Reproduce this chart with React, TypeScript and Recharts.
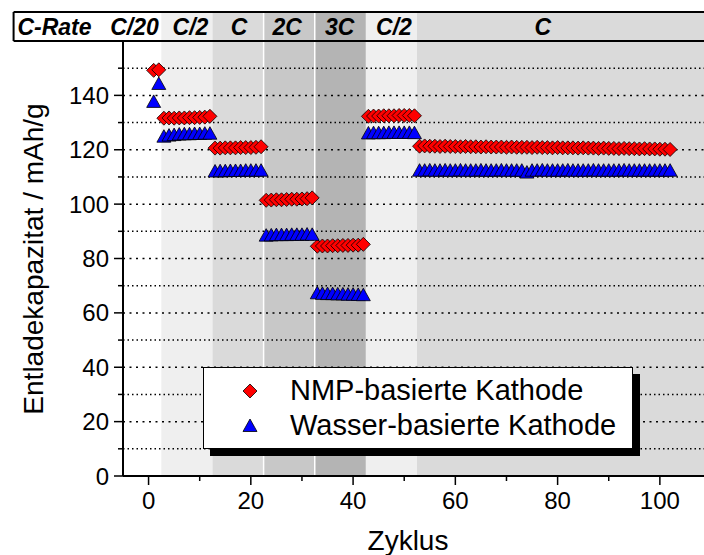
import React from 'react';
import {
  ScatterChart, Scatter, XAxis, YAxis, ReferenceArea, ReferenceLine, ReferenceDot, Legend,
} from 'recharts';

// cycles grouped by C-rate step
const groupStarts = [1, 3, 13, 23, 33, 43, 53];

const nmpGroups = [
  [149.2, 149.4],
  [131.6, 131.7, 131.6, 131.7, 131.7, 131.8, 131.8, 131.9, 132.0, 132.3],
  [120.6, 120.6, 120.7, 120.7, 120.7, 120.8, 120.8, 120.8, 120.9, 121.1],
  [101.4, 101.5, 101.6, 101.6, 101.7, 101.8, 101.8, 101.9, 102.0, 102.3],
  [84.5, 84.6, 84.6, 84.7, 84.7, 84.8, 84.8, 84.9, 84.9, 85.2],
  [132.3, 132.4, 132.4, 132.5, 132.5, 132.5, 132.6, 132.6, 132.6, 132.5],
  [121.3, 121.4, 121.3, 121.3, 121.2, 121.3, 121.2, 121.2, 121.1, 121.2,
   121.1, 121.1, 121.0, 121.1, 121.0, 121.0, 121.0, 120.9, 121.0, 120.9,
   120.9, 120.9, 120.8, 120.9, 120.8, 120.8, 120.7, 120.8, 120.7, 120.7,
   120.7, 120.6, 120.7, 120.6, 120.6, 120.5, 120.6, 120.5, 120.5, 120.4,
   120.5, 120.4, 120.4, 120.3, 120.4, 120.3, 120.3, 120.2, 120.2, 120.1],
];

const wasserGroups = [
  [137.6, 144.2],
  [124.8, 125.2, 125.4, 125.6, 125.7, 125.7, 125.8, 125.8, 125.9, 125.9],
  [112.0, 112.1, 112.1, 112.2, 112.2, 112.2, 112.3, 112.3, 112.3, 112.3],
  [88.4, 88.5, 88.6, 88.6, 88.6, 88.7, 88.7, 88.7, 88.8, 88.7],
  [67.2, 67.0, 66.9, 66.9, 66.8, 66.8, 66.7, 66.7, 66.6, 66.5],
  [126.0, 126.1, 126.1, 126.1, 126.2, 126.2, 126.2, 126.2, 126.2, 126.1],
  [112.3, 112.3, 112.4, 112.3, 112.3, 112.4, 112.3, 112.3, 112.4, 112.3,
   112.3, 112.3, 112.4, 112.3, 112.3, 112.3, 112.4, 112.3, 112.3, 112.3,
   112.3, 111.6, 112.3, 112.3, 112.4, 112.3, 112.3, 112.3, 112.3, 112.4,
   112.3, 112.3, 112.3, 112.3, 112.4, 112.3, 112.3, 112.3, 112.3, 112.3,
   112.4, 112.3, 112.3, 112.3, 112.3, 112.3, 112.3, 112.3, 112.3, 112.3],
];

// rate bands (cycle boundaries) and header labels
const bandFrom = [2.5, 12.5, 22.5, 32.5, 42.5, 52.5];
const bandTo = [12.5, 22.5, 32.5, 42.5, 52.5, 110];
const bandColors = ['#efefef', '#dadada', '#c8c8c8', '#b4b4b4', '#efefef', '#dadada'];
const headerTexts = ['C-Rate', 'C/20', 'C/2', 'C', '2C', '3C', 'C/2', 'C'];
const headerPos = [-18.4, -2.75, 8.2, 17.7, 27.1, 37.4, 48.0, 77.1];

const xTicks = [0, 10, 20, 30, 40, 50, 60, 70, 80, 90, 100, 110];
const yTicks = [0, 10, 20, 30, 40, 50, 60, 70, 80, 90, 100, 110, 120, 130, 140, 150];
const gridYs = [10, 20, 30, 40, 50, 60, 70, 80, 90, 100, 110, 120, 130, 140, 150];

const toPoints = (groups: number[][]) =>
  groups.flatMap((g, gi) => g.map((v, i) => ({ x: groupStarts[gi] + i, y: v })));

const nmpData = toPoints(nmpGroups);
const wasserData = toPoints(wasserGroups);

const FONT = '"Liberation Sans", Arial, sans-serif';
const PLOT_LEFT = 123;
const PLOT_TOP = 41;
const PLOT_BOTTOM = 476;
const HEAD_TOP = 170.66;
const HEAD_LEFT = -26.4;

const Diamond = ({ cx, cy }: any) => (
  <polygon points={`${cx},${cy - 7} ${cx + 7},${cy} ${cx},${cy + 7} ${cx - 7},${cy}`}
    fill="#ff0000" stroke="#000" strokeWidth={0.8} />
);

const Triangle = ({ cx, cy }: any) => (
  <polygon points={`${cx},${cy - 7} ${cx + 7},${cy + 5.5} ${cx - 7},${cy + 5.5}`}
    fill="#0000ff" stroke="#000" strokeWidth={0.8} />
);

const BottomTick = ({ x, payload }: any) => {
  const major = payload.value % 20 === 0;
  return (
    <g>
      <line x1={x} x2={x} y1={PLOT_BOTTOM} y2={PLOT_BOTTOM + (major ? 9 : 5)} stroke="#000" strokeWidth={1.5} />
      {major && (
        <text x={x} y={PLOT_BOTTOM + 33} textAnchor="middle" fontSize={24} fontFamily={FONT} fill="#000">
          {payload.value}
        </text>
      )}
    </g>
  );
};

const TopTick = ({ x, payload }: any) => {
  const major = payload.value % 20 === 0;
  return <line x1={x} x2={x} y1={PLOT_TOP} y2={PLOT_TOP + (major ? 9 : 5)} stroke="#000" strokeWidth={1.5} />;
};

const LeftTick = ({ y, payload }: any) => {
  const major = payload.value % 20 === 0;
  return (
    <g>
      <line x1={PLOT_LEFT - (major ? 9 : 5)} x2={PLOT_LEFT} y1={y} y2={y} stroke="#000" strokeWidth={1.5} />
      {major && (
        <text x={PLOT_LEFT - 14} y={y + 8.5} textAnchor="end" fontSize={24} fontFamily={FONT} fill="#000">
          {payload.value}
        </text>
      )}
    </g>
  );
};

const LegendBox = () => (
  <div style={{
    width: 430, height: 82, boxSizing: 'border-box', background: '#fff', border: '1px solid #000',
    boxShadow: '7px 7px 0 #000', fontFamily: FONT, fontSize: 29, color: '#000', position: 'relative',
  }}>
    <svg width={20} height={80} style={{ position: 'absolute', left: 36, top: 0 }}>
      <Diamond cx={10} cy={23} />
      <Triangle cx={10} cy={58} />
    </svg>
    <div style={{ position: 'absolute', left: 86, top: 5, lineHeight: '34px', whiteSpace: 'nowrap' }}>
      NMP-basierte Kathode
    </div>
    <div style={{ position: 'absolute', left: 86, top: 40, lineHeight: '34px', whiteSpace: 'nowrap' }}>
      Wasser-basierte Kathode
    </div>
  </div>
);

export default function App() {
  return (
    <div style={{ position: 'absolute', left: 0, top: 0, width: 704, height: 555, overflow: 'hidden', background: '#fff', fontFamily: FONT }}>
      <ScatterChart width={720} height={555} margin={{ top: 11, right: 9, bottom: 0, left: 0 }}>
        <XAxis xAxisId="top" orientation="top" type="number" domain={[-5, 110]} ticks={xTicks} interval={0}
          height={30} allowDataOverflow tickLine={false} tick={<TopTick />} axisLine={{ stroke: '#000', strokeWidth: 2 }} />
        <XAxis dataKey="x" type="number" domain={[-5, 110]} ticks={xTicks} interval={0} height={79}
          allowDataOverflow tickLine={false} tick={<BottomTick />} axisLine={{ stroke: '#000', strokeWidth: 2 }}
          label={{
            content: () => (
              <text x={408} y={550} textAnchor="middle" fontSize={28} fontFamily={FONT} fill="#000">Zyklus</text>
            ),
          }} />
        <YAxis dataKey="y" type="number" domain={[0, 160]} ticks={yTicks} interval={0} width={123}
          allowDataOverflow tickLine={false} tick={<LeftTick />} axisLine={{ stroke: '#000', strokeWidth: 2 }}
          label={{
            content: () => (
              <text x={43} y={259} transform="rotate(-90, 43, 259)" textAnchor="middle" fontSize={28} fontFamily={FONT} fill="#000">
                Entladekapazitat / mAh/g
              </text>
            ),
          }} />

        <ReferenceArea x1={HEAD_LEFT} x2={110} y1={160} y2={HEAD_TOP} fill="#fff" fillOpacity={1} ifOverflow="visible" />
        {bandFrom.map((b, i) => (
          <ReferenceArea key={'band' + i} x1={b} x2={bandTo[i]} y1={0} y2={HEAD_TOP}
            fill={bandColors[i]} fillOpacity={1} ifOverflow="visible" />
        ))}
        <ReferenceLine segment={[{ x: 22.5, y: 0 }, { x: 22.5, y: HEAD_TOP }]} stroke="#fff" strokeWidth={1.5} ifOverflow="visible" />
        <ReferenceLine segment={[{ x: 32.5, y: 0 }, { x: 32.5, y: HEAD_TOP }]} stroke="#fff" strokeWidth={1.5} ifOverflow="visible" />

        {gridYs.map((g) => (
          <ReferenceLine key={'g' + g} segment={[{ x: -5, y: g }, { x: 110, y: g }]} stroke="#000" strokeWidth={1.5}
            strokeDasharray={g % 20 === 0 ? '2 4.5' : '1.5 3'} ifOverflow="visible" />
        ))}

        <ReferenceLine segment={[{ x: HEAD_LEFT, y: HEAD_TOP }, { x: 110, y: HEAD_TOP }]} stroke="#000" strokeWidth={2} ifOverflow="visible" />
        <ReferenceLine segment={[{ x: HEAD_LEFT, y: 160 }, { x: 110, y: 160 }]} stroke="#000" strokeWidth={2} ifOverflow="visible" />
        <ReferenceLine segment={[{ x: HEAD_LEFT, y: 160 }, { x: HEAD_LEFT, y: HEAD_TOP }]} stroke="#000" strokeWidth={2} ifOverflow="visible" />

        {headerTexts.map((t, i) => (
          <ReferenceDot key={'h' + i} x={headerPos[i]} y={165.3} r={0} fill="none" stroke="none" ifOverflow="visible"
            label={{ value: t, position: 'center', fontSize: 23, fontWeight: 'bold', fontStyle: 'italic', fill: '#000', fontFamily: FONT }} />
        ))}

        <Scatter name="NMP-basierte Kathode" data={nmpData} shape={<Diamond />} isAnimationActive={false} />
        <Scatter name="Wasser-basierte Kathode" data={wasserData} shape={<Triangle />} isAnimationActive={false} />

        <Legend layout="vertical" align="center" verticalAlign="middle"
          wrapperStyle={{ left: 203, top: 367, width: 430, height: 82 }} content={() => <LegendBox />} />
      </ScatterChart>
    </div>
  );
}
